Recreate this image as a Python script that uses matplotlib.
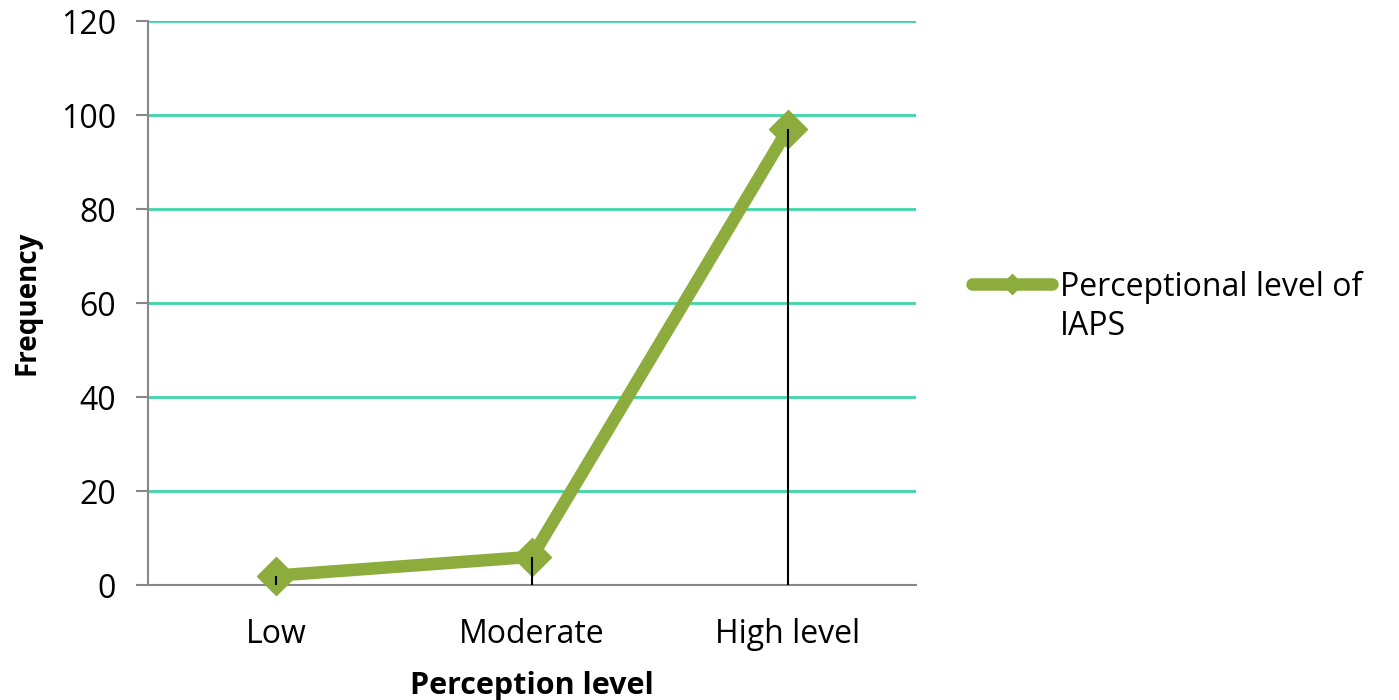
import matplotlib.pyplot as plt
from matplotlib.lines import Line2D

categories = ["Low", "Moderate", "High level"]
frequency = [2, 6, 97]
y_ticks = [0, 20, 40, 60, 80, 100, 120]
series_name = "Perceptional level of\nIAPS"

plt.rcParams['font.family'] = ['Open Sans', 'DejaVu Sans']

fig = plt.figure(figsize=(13.99, 7.0), dpi=100)
ax = fig.add_axes([148 / 1399, 115 / 700, 768 / 1399, 564 / 700])

x = [i + 0.5 for i in range(len(categories))]
green = "#8CAC3E"

ax.set_xlim(0, len(categories))
ax.set_ylim(0, 120)
ax.set_yticks(y_ticks)
ax.yaxis.grid(True, color="#3DD6AA", linewidth=2)
ax.set_axisbelow(True)

ax.plot(x, frequency, color=green, linewidth=9, marker="D", markersize=19,
        markerfacecolor=green, markeredgecolor=green, solid_joinstyle="miter",
        zorder=3, clip_on=False)

# drop lines from each point to the category axis, drawn over the series
ax.vlines(x, 0, frequency, colors="black", linewidth=1.5, zorder=4)

ax.set_xticks(x)
ax.set_xticklabels(categories, fontsize=23)
ax.tick_params(axis="x", length=0, pad=24)
ax.tick_params(axis="y", length=9, width=1.5, color="#888888", labelsize=23, pad=14)

for side in ("top", "right"):
    ax.spines[side].set_visible(False)
for side in ("left", "bottom"):
    ax.spines[side].set_color("#888888")
    ax.spines[side].set_linewidth(1.5)

ax.set_xlabel("Perception level", fontsize=22, fontweight="bold", labelpad=14)
ax.set_ylabel("Frequency", fontsize=20, fontweight="bold", labelpad=14)

# legend entry: line sample aligned with the first text line
leg_y = 1 - 284 / 700
fig.add_artist(Line2D([972 / 1399, 1052 / 1399], [leg_y] * 2,
                      color=green, linewidth=9, solid_capstyle="round",
                      transform=fig.transFigure))
fig.add_artist(Line2D([1012 / 1399], [leg_y], color=green, marker="D",
                      markersize=10, markerfacecolor=green, markeredgecolor=green,
                      linestyle="none", transform=fig.transFigure))
fig.text(1060 / 1399, 1 - 271 / 700, series_name, fontsize=23,
         ha="left", va="top", linespacing=1.25,
         transform=fig.transFigure)

fig.savefig("out.png", dpi=100, facecolor="white")
